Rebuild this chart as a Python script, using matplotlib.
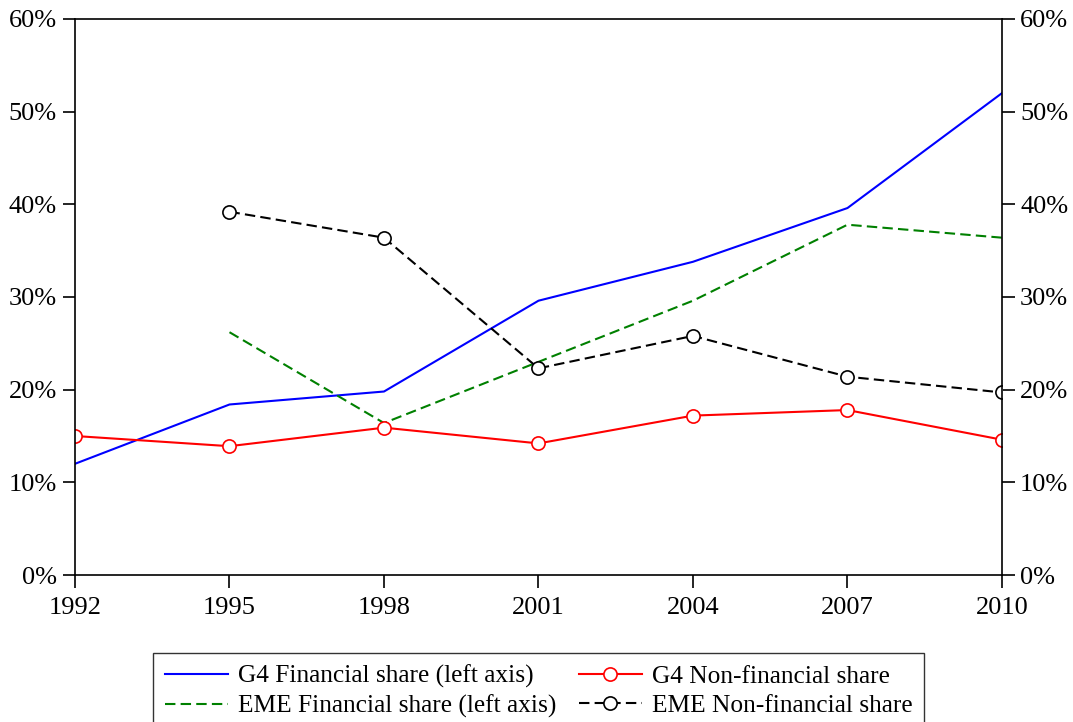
import matplotlib.pyplot as plt
from matplotlib.ticker import FuncFormatter

years = [1992, 1995, 1998, 2001, 2004, 2007, 2010]
g4_fin = [12.0, 18.4, 19.8, 29.6, 33.8, 39.6, 52.0]
g4_nonfin = [15.0, 13.9, 15.9, 14.2, 17.2, 17.8, 14.6]
eme_years = [1995, 1998, 2001, 2004, 2007, 2010]
eme_fin = [26.2, 16.4, 23.0, 29.6, 37.8, 36.4]
eme_nonfin = [39.2, 36.4, 22.3, 25.8, 21.4, 19.7]

plt.rcParams['font.family'] = ['Liberation Serif', 'DejaVu Serif']
plt.rcParams['font.size'] = 19

fig = plt.figure(figsize=(10.73, 7.22), dpi=100)
ax = fig.add_axes([0.0699, 0.2036, 0.8639, 0.7701])

l1, = ax.plot(years, g4_fin, color='blue', lw=1.5, label='G4 Financial share (left axis)')
l3, = ax.plot(eme_years, eme_fin, color='green', lw=1.5, ls=(0, (5, 2.5)),
              label='EME Financial share (left axis)')
l2, = ax.plot(years, g4_nonfin, color='red', lw=1.5, marker='o', ms=9.5,
              mfc='white', mec='red', mew=1.2, label='G4 Non-financial share')
l4, = ax.plot(eme_years, eme_nonfin, color='black', lw=1.5, ls=(0, (5, 2.5)),
              marker='o', ms=9.5, mfc='white', mec='black', mew=1.2,
              label='EME Non-financial share')

ax.set_xlim(1992, 2010)
ax.set_ylim(0, 60)
ax.set_xticks(years)
ax.set_yticks(range(0, 61, 10))
fmt = FuncFormatter(lambda v, p: f'{v:.0f}%')
ax.yaxis.set_major_formatter(fmt)
ax.tick_params(axis='both', direction='out', length=9, width=1.2, labelsize=19,
               right=True, labelright=True, top=False)
ax.tick_params(axis='x', pad=7)
ax.tick_params(axis='y', pad=4)
for s in ax.spines.values():
    s.set_linewidth(1.2)

leg = fig.legend(handles=[l1, l3, l2, l4], ncol=2, loc='upper center',
                 bbox_to_anchor=(0.502, 0.096), frameon=True, fancybox=False,
                 edgecolor='black', fontsize=18.3, handlelength=2.48,
                 labelspacing=0.27, columnspacing=0.87, borderpad=0.47,
                 handletextpad=0.4, borderaxespad=0)
leg.get_frame().set_linewidth(1.0)

fig.savefig('out.png', dpi=100)
